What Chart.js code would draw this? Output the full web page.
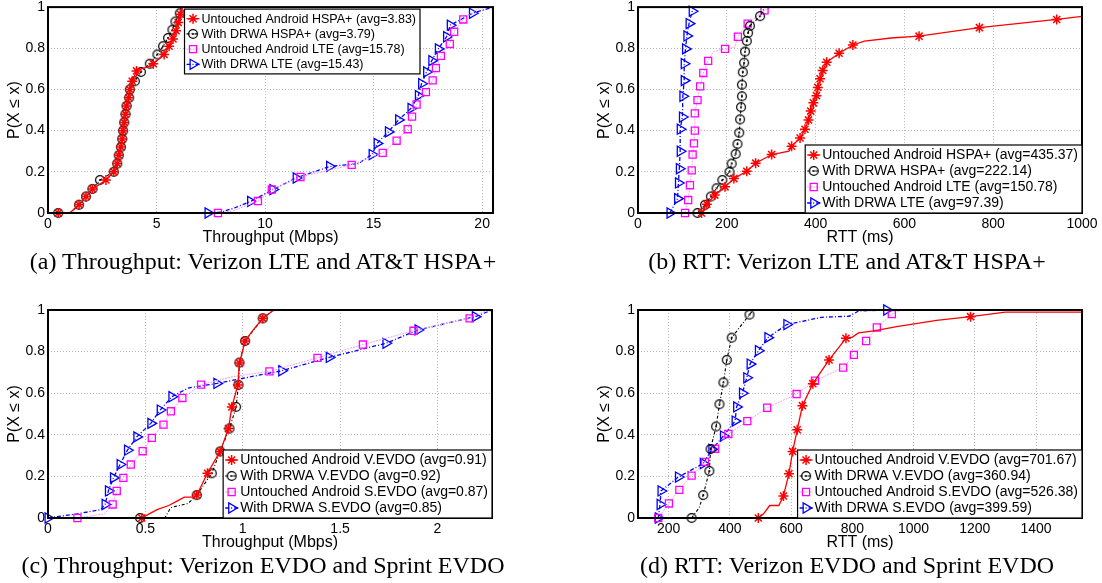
<!DOCTYPE html>
<html>
<head>
<meta charset="utf-8">
<script src="https://cdn.jsdelivr.net/npm/chart.js@4.4.1/dist/chart.umd.min.js"></script>
<style>
  body { margin: 0; background: #fff; width: 1102px; height: 583px; position: relative; overflow: hidden; }
  .panel { position: absolute; }
  .cap { position: absolute; width: 560px; text-align: center; font-family: "Liberation Serif", "Times New Roman", serif;
         font-size: 24px; line-height: 24px; color: #000; white-space: nowrap; }
</style>
</head>
<body>
<div class="panel" style="left:0;top:0"><canvas id="chartA" width="551" height="250"></canvas></div>
<div class="panel" style="left:551px;top:0"><canvas id="chartB" width="551" height="250"></canvas></div>
<div class="panel" style="left:0;top:300px"><canvas id="chartC" width="551" height="255"></canvas></div>
<div class="panel" style="left:551px;top:300px"><canvas id="chartD" width="551" height="255"></canvas></div>
<div class="cap" style="left:-17px;top:249px">(a) Throughput: Verizon LTE and AT&amp;T HSPA+</div>
<div class="cap" style="left:567px;top:249px">(b) RTT: Verizon LTE and AT&amp;T HSPA+</div>
<div class="cap" style="left:-17px;top:553px">(c) Throughput: Verizon EVDO and Sprint EVDO</div>
<div class="cap" style="left:567px;top:553px">(d) RTT: Verizon EVDO and Sprint EVDO</div>
<script>
// ---- tick labels ----
const cdfTicks = [0, 0.2, 0.4, 0.6, 0.8, 1];
const ticksA = [0, 5, 10, 15, 20];
const ticksB = [0, 200, 400, 600, 800, 1000];
const ticksC = [0, 0.5, 1, 1.5, 2];
const ticksD = [200, 400, 600, 800, 1000, 1200, 1400];

// ---- (a) throughput, Verizon LTE and AT&T HSPA+ ----
const labelsA = ['Untouched Android HSPA+ (avg=3.83)', 'With DRWA HSPA+ (avg=3.79)',
                 'Untouched Android LTE (avg=15.78)', 'With DRWA LTE (avg=15.43)'];
const aHspaX = [0.47, 1.43, 1.75, 2.05, 2.67, 3.03, 3.19, 3.26, 3.36, 3.42, 3.46, 3.51, 3.57, 3.62, 3.72, 3.77, 3.88, 4.08, 4.85, 5.35, 5.58, 5.76, 5.9, 6.0, 6.1];
const aHspaY = [0, 0.04, 0.08, 0.117, 0.16, 0.2, 0.24, 0.28, 0.32, 0.36, 0.4, 0.44, 0.48, 0.52, 0.56, 0.6, 0.64, 0.69, 0.725, 0.77, 0.81, 0.845, 0.885, 0.925, 0.965];
const aHspaLineX = [1.0, 4.3, 4.6, 6.2];
const aHspaLineY = [0, 0.7, 0.71, 1];
const aDrwaHspaX = [0.47, 1.43, 1.75, 2.05, 2.39, 3.03, 3.19, 3.26, 3.36, 3.42, 3.46, 3.51, 3.57, 3.62, 3.74, 3.77, 4.0, 4.28, 4.69, 5.04, 5.3, 5.53, 5.73, 5.87, 6.07];
const aDrwaHspaY = [0, 0.04, 0.08, 0.117, 0.16, 0.2, 0.24, 0.28, 0.32, 0.36, 0.4, 0.44, 0.48, 0.52, 0.56, 0.6, 0.64, 0.685, 0.725, 0.77, 0.81, 0.85, 0.89, 0.93, 0.97];
const aDrwaHspaLineX = [1.0, 6.15];
const aDrwaHspaLineY = [0, 1];
const aLteX = [7.83, 9.67, 10.31, 11.63, 13.99, 15.42, 16.06, 16.57, 16.77, 16.98, 17.41, 17.72, 17.87, 18.1, 18.51, 18.71, 19.13];
const aLteY = [0, 0.058, 0.114, 0.175, 0.234, 0.292, 0.351, 0.407, 0.468, 0.527, 0.587, 0.644, 0.704, 0.763, 0.821, 0.88, 0.94];
const aLteLineX = [8.5, 19.9];
const aLteLineY = [0.01, 1];
const aDrwaLteX = [7.37, 9.33, 10.36, 11.43, 12.97, 14.93, 15.16, 15.68, 16.15, 16.72, 17.06, 17.21, 17.44, 17.68, 17.98, 18.36, 18.53, 19.55];
const aDrwaLteY = [0, 0.056, 0.114, 0.17, 0.226, 0.284, 0.338, 0.394, 0.452, 0.508, 0.57, 0.628, 0.685, 0.74, 0.797, 0.856, 0.912, 0.97];
const aDrwaLteLineX = [8.0, 8.6, 14.3, 20.5];
const aDrwaLteLineY = [0.005, 0.025, 0.24, 1];

// ---- (b) RTT, Verizon LTE and AT&T HSPA+ ----
const labelsB = ['Untouched Android HSPA+ (avg=435.37)', 'With DRWA HSPA+ (avg=222.14)',
                 'Untouched Android LTE (avg=150.78)', 'With DRWA LTE (avg=97.39)'];
const bHspaX = [143, 155, 173, 196, 216, 245, 265, 301, 346, 365, 376, 384, 389, 395, 402, 405, 410, 416, 425, 453, 484, 633, 769, 943];
const bHspaY = [0, 0.043, 0.087, 0.127, 0.167, 0.203, 0.242, 0.284, 0.324, 0.364, 0.407, 0.452, 0.495, 0.535, 0.57, 0.61, 0.652, 0.692, 0.732, 0.776, 0.816, 0.859, 0.9, 0.94];
const bHspaLineX = [340, 510, 570, 1000];
const bHspaLineY = [0.3, 0.835, 0.85, 0.955];
const bDrwaHspaX = [134, 151, 164, 177, 190, 206, 211, 220, 224, 228, 230, 232, 234, 234, 236, 239, 241, 245, 248, 252, 275];
const bDrwaHspaY = [0, 0.04, 0.08, 0.12, 0.16, 0.2, 0.24, 0.287, 0.335, 0.39, 0.455, 0.514, 0.567, 0.623, 0.684, 0.73, 0.784, 0.835, 0.875, 0.909, 0.956];
const bDrwaHspaLineX = [286];
const bDrwaHspaLineY = [1];
const bLteX = [106, 113, 117, 121, 123, 126, 128, 128, 134, 140, 147, 158, 196, 225, 247, 285];
const bLteY = [0, 0.063, 0.135, 0.207, 0.284, 0.338, 0.4, 0.484, 0.548, 0.615, 0.68, 0.739, 0.797, 0.856, 0.92, 0.984];
const bLteLineX = [170, 218, 300, 330];
const bLteLineY = [0.785, 0.805, 1, 1];
const bDrwaLteX = [72, 89, 91, 93, 95, 95, 100, 101, 104, 104, 107, 110, 115, 122];
const bDrwaLteY = [0, 0.07, 0.146, 0.215, 0.3, 0.407, 0.466, 0.567, 0.643, 0.725, 0.797, 0.86, 0.92, 0.98];
const bDrwaLteLineX = [125];
const bDrwaLteLineY = [1];

// ---- (c) throughput, Verizon EVDO and Sprint EVDO ----
const labelsC = ['Untouched Android V.EVDO (avg=0.91)', 'With DRWA V.EVDO (avg=0.92)',
                 'Untouched Android S.EVDO (avg=0.87)', 'With DRWA S.EVDO (avg=0.85)'];
const cVevdoX = [0.481, 0.764, 0.819, 0.884, 0.927, 0.944, 0.975, 0.983, 1.012, 1.103];
const cVevdoY = [0, 0.11, 0.215, 0.32, 0.43, 0.534, 0.64, 0.745, 0.851, 0.96];
const cVevdoLineX = [0.52, 0.56, 0.62, 0.66, 0.7, 0.75, 1.05, 1.16];
const cVevdoLineY = [0.02, 0.04, 0.06, 0.08, 0.1, 0.1, 0.9, 1];
const cDrwaVevdoX = [0.473, 0.764, 0.841, 0.884, 0.932, 0.966, 0.978, 0.983, 1.012, 1.103];
const cDrwaVevdoY = [0, 0.11, 0.215, 0.32, 0.43, 0.534, 0.64, 0.747, 0.851, 0.96];
const cDrwaVevdoLineX = [0.6, 0.63, 0.72, 1.158];
const cDrwaVevdoLineY = [0, 0.05, 0.07, 1];
const cSevdoX = [0.151, 0.332, 0.353, 0.387, 0.425, 0.486, 0.533, 0.593, 0.631, 0.69, 0.786, 1.137, 1.384, 1.617, 1.877, 2.165];
const cSevdoY = [0, 0.065, 0.13, 0.193, 0.257, 0.321, 0.385, 0.449, 0.513, 0.577, 0.641, 0.705, 0.77, 0.834, 0.9, 0.96];
const cSevdoLineX = [0.29, 0.95, 2.26];
const cSevdoLineY = [0.02, 0.68, 1];
const cDrwaSevdoX = [0.0, 0.293, 0.31, 0.336, 0.37, 0.408, 0.456, 0.528, 0.576, 0.636, 0.867, 1.2, 1.444, 1.735, 1.9, 2.194];
const cDrwaSevdoY = [0, 0.065, 0.13, 0.193, 0.257, 0.326, 0.39, 0.455, 0.519, 0.583, 0.647, 0.708, 0.772, 0.84, 0.904, 0.968];
const cDrwaSevdoLineX = [0.15, 0.27, 0.72, 2.28];
const cDrwaSevdoLineY = [0.02, 0.04, 0.625, 1];

// ---- (d) RTT, Verizon EVDO and Sprint EVDO ----
const labelsD = ['Untouched Android V.EVDO (avg=701.67)', 'With DRWA V.EVDO (avg=360.94)',
                 'Untouched Android S.EVDO (avg=526.38)', 'With DRWA S.EVDO (avg=399.59)'];
const dVevdoX = [493, 575, 593, 605, 620, 637, 671, 724, 779, 1186];
const dVevdoY = [0, 0.106, 0.213, 0.32, 0.424, 0.54, 0.646, 0.76, 0.864, 0.968];
const dVevdoLineX = [510, 530, 560, 800, 820, 870, 945, 1075, 1300, 1550];
const dVevdoLineY = [0.02, 0.06, 0.06, 0.87, 0.89, 0.9, 0.92, 0.95, 0.99, 0.99];
const dDrwaVevdoX = [275, 313, 333, 337, 355, 366, 379, 390, 406, 464];
const dDrwaVevdoY = [0, 0.11, 0.226, 0.332, 0.44, 0.547, 0.652, 0.76, 0.867, 0.978];
const dDrwaVevdoLineX = [300, 476];
const dDrwaVevdoLineY = [0.05, 1];
const dSevdoX = [166, 201, 235, 275, 319, 352, 395, 457, 522, 618, 678, 770, 805, 845, 880, 929];
const dSevdoY = [0, 0.07, 0.135, 0.204, 0.27, 0.333, 0.404, 0.466, 0.53, 0.596, 0.66, 0.723, 0.784, 0.851, 0.916, 0.98];
const dSevdoLineX = [960, 1000];
const dSevdoLineY = [1, 1];
const dDrwaSevdoX = [166, 172, 175, 232, 313, 341, 379, 417, 422, 441, 455, 466, 493, 524, 586, 912];
const dDrwaSevdoY = [0, 0.065, 0.13, 0.197, 0.262, 0.33, 0.394, 0.466, 0.534, 0.6, 0.674, 0.74, 0.804, 0.867, 0.93, 1];
const dDrwaSevdoLineX = [700, 790, 820];
const dDrwaSevdoLineY = [0.965, 0.97, 0.995];

Chart.defaults.font.family = '"Liberation Sans", Arial, Helvetica, sans-serif';
Chart.defaults.color = '#000';

// black ring marker with a centre dot, as MATLAB draws 'o' on a dash-dot line
function ringDot() {
  const c = document.createElement('canvas');
  c.width = 12; c.height = 12;
  const g = c.getContext('2d');
  g.strokeStyle = '#000'; g.lineWidth = 1.2;
  g.beginPath(); g.arc(6, 6, 4.4, 0, Math.PI * 2); g.stroke();
  g.fillStyle = '#000';
  g.beginPath(); g.arc(6, 6, 1, 0, Math.PI * 2); g.fill();
  return c;
}

const looks = [
  { line: '#ff0000', width: 1.3, dash: [], mark: '#ff0000', style: 'star', rot: 0, r: 5, mw: 1.5 },
  { line: '#000000', width: 1.1, dash: [3, 2, 1, 2], mark: '#000000', style: ringDot(), rot: 0, r: 4.5, mw: 1 },
  { line: '#f2a0f2', width: 1, dash: [2, 1], mark: '#ff00ff', style: 'rect', rot: 0, r: 5, mw: 1.3 },
  { line: '#0000ff', width: 1.3, dash: [4, 2, 1, 2], mark: '#0000ff', style: 'triangle', rot: 90, r: 5.8, mw: 1.3 }
];

// marker points + line-only vertices, merged in CDF order
function cdf(mx, my, lx, ly) {
  const pts = mx.map((x, i) => ({ x, y: my[i], m: true }));
  lx.forEach((x, i) => pts.push({ x, y: ly[i], m: false }));
  pts.sort((p, q) => p.x - q.x || p.y - q.y);
  return pts;
}

function dataset(label, pts, lk) {
  return {
    label, data: pts,
    borderColor: lk.line, borderWidth: lk.width, borderDash: lk.dash,
    pointStyle: lk.style, pointRotation: lk.rot,
    pointBorderColor: lk.mark, pointBackgroundColor: 'rgba(0,0,0,0)', pointBorderWidth: lk.mw,
    pointRadius: c => (c.raw && c.raw.m ? lk.r : 0), pointHoverRadius: 0,
    markerRadius: lk.r,
    tension: 0, fill: false, clip: 8
  };
}

const frame = {
  id: 'frame',
  afterDatasetsDraw(chart) {
    const { ctx, chartArea: a } = chart;
    ctx.save();
    ctx.strokeStyle = '#000'; ctx.lineWidth = 2;
    ctx.strokeRect(a.left, a.top, a.right - a.left, a.bottom - a.top);
    ctx.restore();
  }
};

const boxLegend = {
  id: 'boxLegend',
  afterDraw(chart, args, o) {
    const { ctx, chartArea: a } = chart;
    const sets = chart.data.datasets;
    ctx.save();
    ctx.font = o.size + 'px "Liberation Sans", Arial, sans-serif';
    const tw = Math.max(...sets.map(d => ctx.measureText(d.label).width));
    const w = 17 + tw + 4, h = sets.length * o.rowH + 4;
    const x0 = a.right - o.right - w;
    const y0 = o.top != null ? a.top + o.top : a.bottom - o.bottom - h;
    ctx.fillStyle = '#fff'; ctx.fillRect(x0, y0, w, h);
    ctx.strokeStyle = '#000'; ctx.lineWidth = 1.2; ctx.strokeRect(x0, y0, w, h);
    sets.forEach((d, i) => {
      const cy = y0 + 2 + o.rowH * (i + 0.5);
      ctx.save();
      ctx.strokeStyle = d.borderColor; ctx.lineWidth = d.borderWidth; ctx.setLineDash(d.borderDash);
      ctx.beginPath(); ctx.moveTo(x0 + 2, cy); ctx.lineTo(x0 + 15, cy); ctx.stroke();
      ctx.setLineDash([]);
      ctx.strokeStyle = d.pointBorderColor; ctx.fillStyle = 'rgba(0,0,0,0)'; ctx.lineWidth = d.pointBorderWidth;
      Chart.helpers.drawPoint(ctx, { pointStyle: d.pointStyle, rotation: d.pointRotation,
        radius: d.markerRadius, borderWidth: d.pointBorderWidth }, x0 + 8.5, cy);
      ctx.restore();
      ctx.fillStyle = '#000'; ctx.textAlign = 'left'; ctx.textBaseline = 'middle';
      ctx.fillText(d.label, x0 + 17, cy + 0.5);
    });
    ctx.restore();
  }
};

function draw(id, p) {
  new Chart(document.getElementById(id), {
    type: 'line',
    data: { datasets: p.series.map((s, i) => dataset(p.labels[i], s, looks[i])) },
    options: {
      responsive: false, animation: false, events: [],
      layout: { padding: { left: p.padL, right: p.padR, top: p.padT, bottom: 0 } },
      plugins: { legend: { display: false }, tooltip: { enabled: false }, boxLegend: p.legend },
      scales: {
        x: {
          type: 'linear', min: p.xmin, max: p.xmax,
          afterBuildTicks: s => { s.ticks = p.xticks.map(v => ({ value: v })); },
          afterFit: s => { s.height = 37; s.paddingLeft = 0; s.paddingRight = 0; },
          grid: { color: '#b4b4b4', drawTicks: false },
          border: { display: false, dash: [1, 2] },
          ticks: { padding: 3, autoSkip: false, maxRotation: 0, font: { size: 14 }, callback: v => String(v) },
          title: { display: true, text: p.xtitle, font: { size: 16 }, padding: { top: 0, bottom: 3 } }
        },
        y: {
          type: 'linear', min: 0, max: 1,
          afterBuildTicks: s => { s.ticks = cdfTicks.map(v => ({ value: v })); },
          afterFit: s => { s.width = 48; s.paddingTop = 0; s.paddingBottom = 0; },
          grid: { color: '#b4b4b4', drawTicks: false },
          border: { display: false, dash: [1, 2] },
          ticks: { padding: 3, font: { size: 14 }, callback: v => String(v) },
          title: { display: true, text: 'P(X \u2264 x)', font: { size: 16 }, padding: { top: 5, bottom: 0 } }
        }
      }
    },
    plugins: [frame, boxLegend]
  });
}

draw('chartA', {
  labels: labelsA, xmin: 0, xmax: 20.5, xticks: ticksA, xtitle: 'Throughput (Mbps)',
  padL: 0, padR: 58, padT: 5,
  legend: { right: 73, top: 2, size: 12.5, rowH: 15.2 },
  series: [cdf(aHspaX, aHspaY, aHspaLineX, aHspaLineY), cdf(aDrwaHspaX, aDrwaHspaY, aDrwaHspaLineX, aDrwaHspaLineY),
           cdf(aLteX, aLteY, aLteLineX, aLteLineY), cdf(aDrwaLteX, aDrwaLteY, aDrwaLteLineX, aDrwaLteLineY)]
});
draw('chartB', {
  labels: labelsB, xmin: 0, xmax: 1000, xticks: ticksB, xtitle: 'RTT (ms)',
  padL: 39, padR: 20, padT: 5,
  legend: { right: 0, bottom: 0, size: 14, rowH: 16 },
  series: [cdf(bHspaX, bHspaY, bHspaLineX, bHspaLineY), cdf(bDrwaHspaX, bDrwaHspaY, bDrwaHspaLineX, bDrwaHspaLineY),
           cdf(bLteX, bLteY, bLteLineX, bLteLineY), cdf(bDrwaLteX, bDrwaLteY, bDrwaLteLineX, bDrwaLteLineY)]
});
draw('chartC', {
  labels: labelsC, xmin: 0, xmax: 2.28, xticks: ticksC, xtitle: 'Throughput (Mbps)',
  padL: 0, padR: 59, padT: 10,
  legend: { right: 0, bottom: 0, size: 14, rowH: 16 },
  series: [cdf(cVevdoX, cVevdoY, cVevdoLineX, cVevdoLineY), cdf(cDrwaVevdoX, cDrwaVevdoY, cDrwaVevdoLineX, cDrwaVevdoLineY),
           cdf(cSevdoX, cSevdoY, cSevdoLineX, cSevdoLineY), cdf(cDrwaSevdoX, cDrwaSevdoY, cDrwaSevdoLineX, cDrwaSevdoLineY)]
});
draw('chartD', {
  labels: labelsD, xmin: 100, xmax: 1550, xticks: ticksD, xtitle: 'RTT (ms)',
  padL: 39, padR: 20, padT: 10,
  legend: { right: 0, bottom: 0, size: 14, rowH: 16 },
  series: [cdf(dVevdoX, dVevdoY, dVevdoLineX, dVevdoLineY), cdf(dDrwaVevdoX, dDrwaVevdoY, dDrwaVevdoLineX, dDrwaVevdoLineY),
           cdf(dSevdoX, dSevdoY, dSevdoLineX, dSevdoLineY), cdf(dDrwaSevdoX, dDrwaSevdoY, dDrwaSevdoLineX, dDrwaSevdoLineY)]
});
</script>
</body>
</html>
